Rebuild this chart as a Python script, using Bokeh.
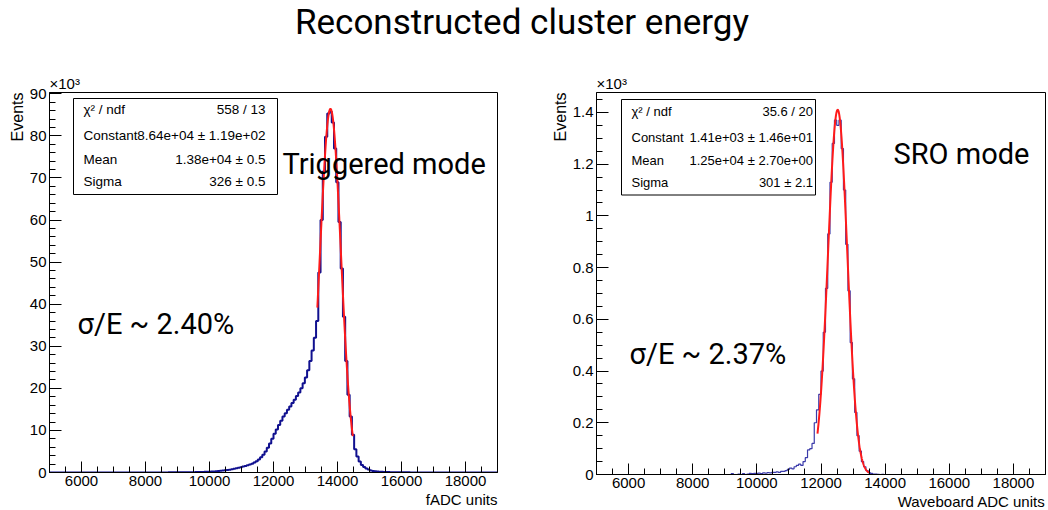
import numpy as np
from bokeh.plotting import figure
from bokeh.models import Label, BoxAnnotation, FixedTicker, CustomJSTickFormatter, Div, Range1d, Title
from bokeh.layouts import row, column
from bokeh.embed import file_html
from bokeh.resources import INLINE

TITLE = "Reconstructed cluster energy"
BIN_LO, BIN_HI, NBINS = 5000, 19000, 200
BIN_W = (BIN_HI - BIN_LO) / NBINS

# Triggered mode histogram, events per bin (x10^3), bins 0..199
trig_counts = [
    0, 0, 0, 0, 0, 0, 0, 0, 0, 0,
    0, 0, 0, 0, 0, 0, 0, 0, 0, 0,
    0, 0, 0, 0, 0, 0, 0, 0, 0, 0,
    0, 0, 0, 0, 0, 0, 0.01, 0, 0.01, 0.01,
    0.01, 0.01, 0.01, 0.01, 0.01, 0.01, 0.02, 0.01, 0.02, 0.02,
    0.02, 0.02, 0.02, 0.03, 0.03, 0.03, 0.03, 0.04, 0.04, 0.05,
    0.05, 0.06, 0.06, 0.07, 0.08, 0.09, 0.10, 0.12, 0.13, 0.15,
    0.17, 0.20, 0.22, 0.26, 0.30, 0.35, 0.40, 0.46, 0.52, 0.60,
    0.68, 0.78, 0.88, 1.0, 1.1, 1.25, 1.4, 1.55, 1.7, 1.9,
    2.1, 2.35, 2.7, 3.1, 3.6, 4.2, 5.0, 5.9, 6.9, 8.0,
    9.2, 10.2, 11.3, 12.3, 13.3, 14.1, 14.9, 15.7, 16.5, 17.3,
    18.2, 19.0, 20.0, 21.2, 22.6, 24.3, 26.5, 29.0, 32.0, 36.0,
    47.5, 60.0, 71.5, 79.8, 85.3, 85.8, 83.2, 77.0, 69.0, 59.5,
    48.5, 37.0, 26.5, 18.5, 13.3, 9.0, 5.5, 3.8, 2.6, 1.8,
    1.3, 0.95, 0.7, 0.5, 0.38, 0.3, 0.24, 0.2, 0.16, 0.13,
    0.11, 0.09, 0.08, 0.07, 0.06, 0.05, 0.04, 0.04, 0.03, 0.03,
    0.03, 0.02, 0.02, 0.02, 0.02, 0.01, 0.01, 0.01, 0.01, 0.01,
    0.01, 0.01, 0, 0.01, 0, 0, 0, 0, 0, 0,
    0, 0, 0, 0, 0, 0, 0, 0, 0, 0,
    0, 0, 0, 0, 0, 0, 0, 0, 0, 0,
]

# SRO mode histogram, events per bin (x10^3), bins 0..199
sro_counts = [
    0, 0, 0, 0, 0, 0, 0, 0, 0, 0,
    0, 0, 0, 0, 0, 0, 0, 0, 0, 0,
    0, 0, 0, 0, 0, 0, 0, 0, 0, 0,
    0, 0, 0, 0, 0, 0, 0, 0, 0, 0,
    0, 0, 0, 0, 0, 0, 0, 0, 0, 0,
    0, 0, 0, 0, 0, 0, 0, 0, 0, 0,
    0.003, 0, 0, 0.002, 0, 0.003, 0, 0.002, 0.004, 0.003,
    0.004, 0.004, 0.005, 0.003, 0.006, 0.005, 0.007, 0.006, 0.008, 0.008,
    0.010, 0.008, 0.012, 0.012, 0.015, 0.020, 0.025, 0.022, 0.030, 0.035,
    0.040, 0.035, 0.050, 0.065, 0.095, 0.100, 0.120, 0.200, 0.250, 0.310,
    0.40, 0.55, 0.72, 0.93, 1.13, 1.28, 1.37, 1.35, 1.37, 1.26,
    1.10, 0.89, 0.71, 0.51, 0.37, 0.24, 0.15, 0.09, 0.05, 0.03,
    0.015, 0.007, 0.004, 0.002, 0.002, 0.001, 0, 0.001, 0, 0,
    0, 0, 0, 0, 0, 0, 0, 0, 0, 0,
    0, 0, 0, 0, 0, 0, 0, 0, 0, 0,
    0, 0, 0, 0, 0, 0, 0, 0, 0, 0,
    0, 0, 0, 0, 0, 0, 0, 0, 0, 0,
    0, 0, 0, 0, 0, 0, 0, 0, 0, 0,
    0, 0, 0, 0, 0, 0, 0, 0, 0, 0,
    0, 0, 0, 0, 0, 0, 0, 0, 0, 0,
]

# Gaussian fit parameters (from stats boxes)
trig_fit = dict(const=8.64e4, mean=13780.0, sigma=326.0, lo=13370.0, hi=14480.0)
sro_fit = dict(const=1.41e3, mean=12520.0, sigma=301.0, lo=11890.0, hi=13500.0)

trig_stats = [("χ² / ndf", "558 / 13"), ("Constant", "8.64e+04 ± 1.19e+02"),
              ("Mean", "1.38e+04 ± 0.5"), ("Sigma", "326 ± 0.5")]
sro_stats = [("χ² / ndf", "35.6 / 20"), ("Constant", "1.41e+03 ± 1.46e+01"),
             ("Mean", "1.25e+04 ± 2.70e+00"), ("Sigma", "301 ± 2.1")]

x_major = [6000, 8000, 10000, 12000, 14000, 16000, 18000]
x_minor = list(range(5000, 19001, 500))
y1_major = [0, 10, 20, 30, 40, 50, 60, 70, 80, 90]
y1_minor = list(range(0, 91, 2))
y2_major = [0, 0.2, 0.4, 0.6, 0.8, 1.0, 1.2, 1.4]
y2_minor = [i * 0.05 for i in range(0, 30)]

Y1MAX = 90.3
Y2MAX = 1.477
FONT = "Liberation Sans"
BIG = "Roboto"

edges = BIN_LO + BIN_W * np.arange(NBINS + 1)


def style(p, ymajor, yminor):
    p.xgrid.visible = False
    p.ygrid.visible = False
    p.outline_line_color = "black"
    p.outline_line_width = 1
    p.outline_line_alpha = 1
    p.xaxis.ticker = FixedTicker(ticks=x_major, minor_ticks=x_minor)
    p.yaxis.ticker = FixedTicker(ticks=ymajor, minor_ticks=yminor)
    for ax in (p.xaxis[0], p.yaxis[0]):
        ax.axis_line_color = "black"
        ax.major_tick_line_color = "black"
        ax.minor_tick_line_color = "black"
        ax.major_tick_out = 0
        ax.minor_tick_out = 0
        ax.major_label_text_font = FONT
        ax.major_label_text_font_size = "15px"
        ax.major_label_text_color = "black"
    p.xaxis.major_tick_in = 11
    p.xaxis.minor_tick_in = 6
    p.yaxis.major_tick_in = 12
    p.yaxis.minor_tick_in = 6
    p.xaxis.major_label_standoff = 3
    p.yaxis.major_label_standoff = 3
    p.yaxis.formatter = CustomJSTickFormatter(code="return String(Math.round(tick*100)/100);")


def side_title(p, text, side, align, size, standoff=1):
    p.add_layout(Title(text=text, align=align, text_font=FONT, text_font_size=size,
                       text_font_style="normal", text_color="black", standoff=standoff,
                       text_line_height=1.0), side)


def big_label(p, x, y, text):
    p.add_layout(Label(x=x, y=y, text=text, text_align="left", text_baseline="alphabetic",
                       text_font=BIG, text_font_size="29px", text_color="black"))


def draw(p, counts, fit, color, width, fx, fy, stats, box, rows, xl, xr, fsize):
    ys = list(counts) + [counts[-1]]
    p.step(x=edges, y=ys, mode="after", line_color=color, line_width=width)
    xs = np.linspace(fit["lo"], fit["hi"], 400)
    yf = fit["const"] * np.exp(-0.5 * ((xs - fit["mean"]) / fit["sigma"]) ** 2) / 1000.0
    p.line(xs, yf, line_color="#ff1a1a", line_width=2)
    l, r, t, b = box
    p.add_layout(BoxAnnotation(left=fx(l), right=fx(r), top=fy(t), bottom=fy(b),
                               fill_color="white", fill_alpha=1, line_color="black",
                               line_alpha=1, line_width=1))
    for (name, val), yy in zip(stats, rows):
        p.add_layout(Label(x=fx(xl), y=fy(yy), text=name, text_font=FONT, text_color="black",
                           text_font_size=fsize, text_baseline="middle", text_align="left"))
        p.add_layout(Label(x=fx(xr), y=fy(yy), text=val, text_font=FONT, text_color="black",
                           text_font_size=fsize, text_baseline="middle", text_align="right"))


# ---------- left figure (page pixel helpers) ----------
def fx1(px):
    return 5000 + (px - 49) * 14000 / 448


def fy1(py):
    return Y1MAX * (472 - py) / 380


p1 = figure(frame_width=448, frame_height=380, min_border_left=49, min_border_right=51,
            min_border_top=40, min_border_bottom=34, x_range=Range1d(BIN_LO, BIN_HI),
            y_range=Range1d(0, Y1MAX), output_backend="svg", toolbar_location=None)
style(p1, y1_major, y1_minor)
draw(p1, trig_counts, trig_fit, "#10108f", 2, fx1, fy1, trig_stats,
     (73, 277, 98, 194), (108.5, 135, 158.5, 181), 83, 265, "13.5px")
side_title(p1, "Events", "left", "right", "16px")
side_title(p1, "×10³", "above", "left", "15px")
side_title(p1, "fADC units", "below", "right", "15px", 0)
big_label(p1, fx1(282), fy1(163), "Triggered mode")
big_label(p1, fx1(77), fy1(323), "σ/E ~ 2.40%")


# ---------- right figure ----------
def fx2(px):
    return 5000 + (px - 596) * 14000 / 449


def fy2(py):
    return Y2MAX * (474 - py) / 382


p2 = figure(frame_width=449, frame_height=382, min_border_left=48, min_border_right=1,
            min_border_top=40, min_border_bottom=34, x_range=Range1d(BIN_LO, BIN_HI),
            y_range=Range1d(0, Y2MAX), output_backend="svg", toolbar_location=None)
style(p2, y2_major, y2_minor)
draw(p2, sro_counts, sro_fit, "#3a3aaa", 1.2, fx2, fy2, sro_stats,
     (621, 815, 99, 194.5), (111, 136.7, 160, 182.3), 631, 812.5, "13px")
side_title(p2, "Events", "left", "right", "16px")
side_title(p2, "×10³", "above", "left", "15px")
side_title(p2, "Waveboard ADC units", "below", "right", "15px", 0)
big_label(p2, fx2(893), fy2(153), "SRO mode")
big_label(p2, fx2(629), fy2(353), "σ/E ~ 2.37%")

title = Div(text=('<div style="font-family:Roboto;font-size:35px;line-height:46px;'
                  'text-align:center;width:1044px;color:#000">' + TITLE + '</div>'),
            width=1044, height=52, margin=(0, 0, 0, 0))

layout = column(title, row(p1, p2, spacing=0), spacing=0)
open("out.html", "w").write(file_html(layout, INLINE))
